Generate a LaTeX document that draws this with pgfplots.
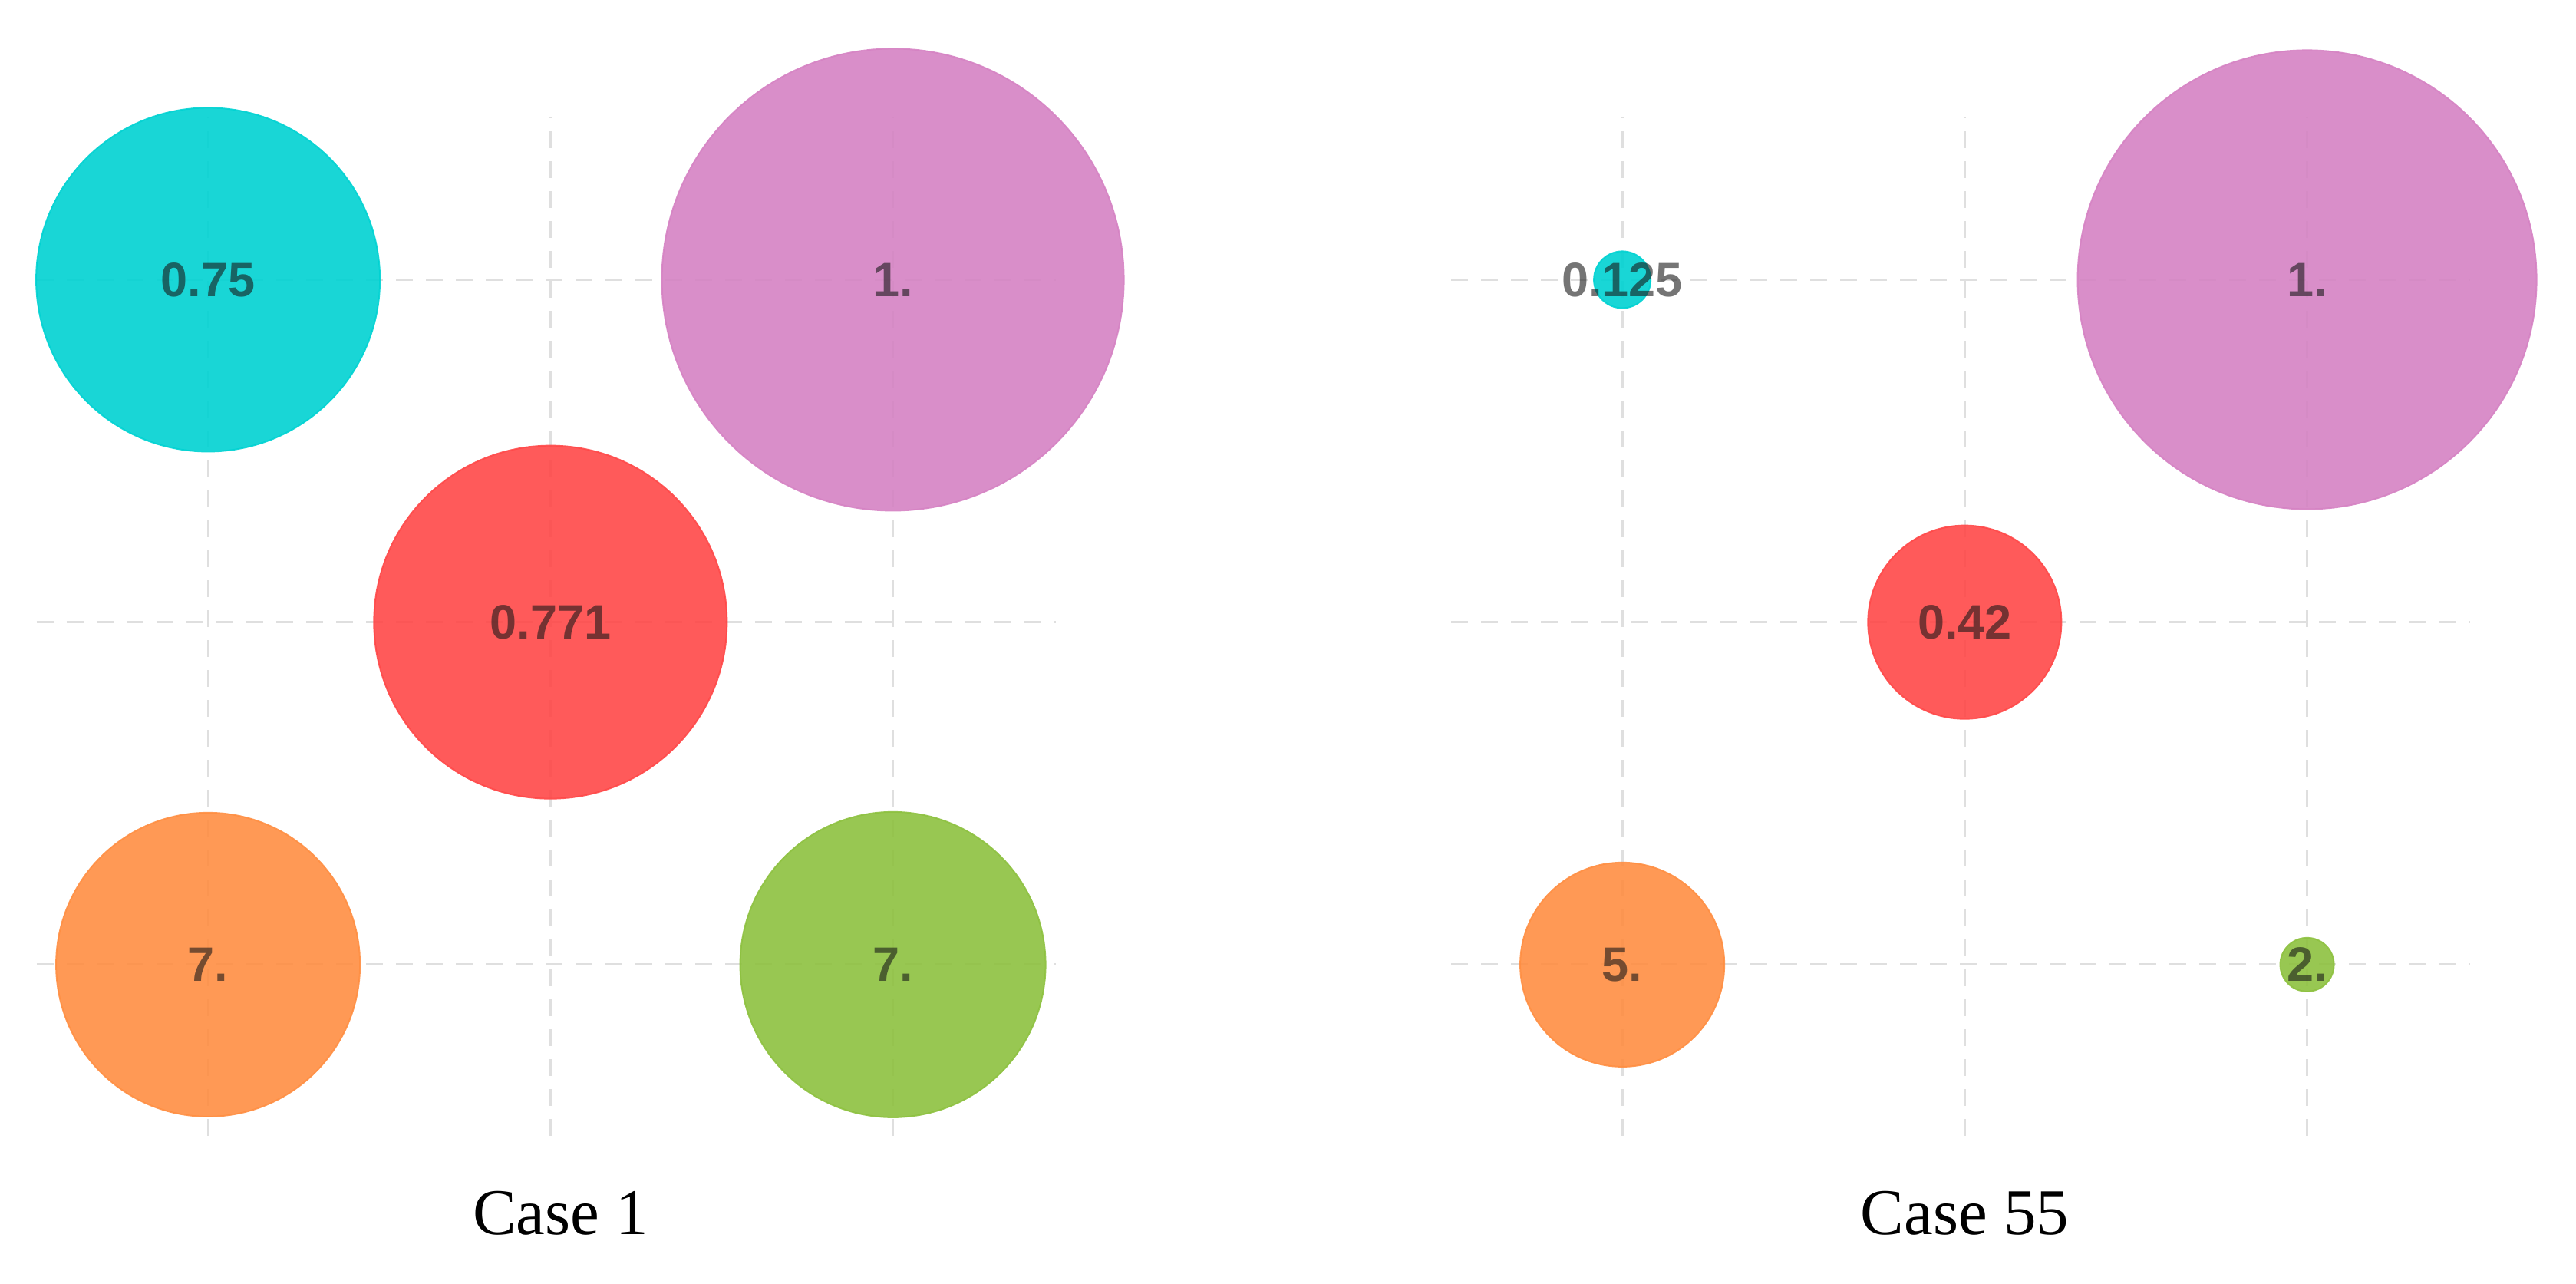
\documentclass[border=0pt]{standalone}
\usepackage{fontspec}
\setmainfont{Liberation Serif}
\newfontfamily\labfont{Liberation Sans}
\usepackage{pgfplots}
\pgfplotsset{compat=1.18}
\usepackage{pgfplotstable}

\definecolor{bc1}{RGB}{0,210,210}
\definecolor{bc2}{RGB}{213,130,195}
\definecolor{bc3}{RGB}{255,72,72}
\definecolor{bc4}{RGB}{255,142,66}
\definecolor{bc5}{RGB}{141,193,63}

% x y radius(pt) label colour-index
\pgfplotstableread{
x y r lab ci
1 3 44.8 0.75 1
3 3 60.2 1. 2
2 2 46.0 0.771 3
1 1 39.6 7. 4
3 1 39.8 7. 5
}\caseone

\pgfplotstableread{
x y r lab ci
1 3 7.4 0.125 1
3 3 59.8 1. 2
2 2 25.2 0.42 3
1 1 26.6 5. 4
3 1 7.0 2. 5
}\casefiftyfive

\pgfplotsset{
  bubblepanel/.style={
    scale only axis, width=265.5pt, height=265.5pt,
    xmin=0.5, xmax=3.475, ymin=0.5, ymax=3.475,
    xtick={1,2,3}, ytick={1,2,3},
    xticklabels={}, yticklabels={},
    grid=major,
    grid style={gray!25, line width=0.6pt, dash pattern=on 4.4pt off 3.4pt},
    axis line style={draw=none}, tick style={draw=none},
    clip=false, anchor=south west,
  },
  bubbles/.style={
    scatter, only marks, mark=*,
    point meta=\thisrow{ci},
    visualization depends on={\thisrow{r}\as\rad},
    visualization depends on={\thisrow{ci}\as\ci},
    scatter/@pre marker code/.code={%
      \pgfmathtruncatemacro\cidx{\ci}%
      \scope[mark size=\rad pt, color=bc\cidx, opacity=0.9, line width=0.4pt]},
    scatter/@post marker code/.code={\endscope},
  },
  bubblelabels/.style={
    only marks, mark=none,
    point meta=explicit symbolic,
    nodes near coords,
    nodes near coords style={anchor=center, text=black!90, text opacity=0.6,
      font=\labfont\bfseries\fontsize{12.6}{14}\selectfont},
  },
}

\begin{document}
\begin{tikzpicture}
\path[use as bounding box] (0,0) rectangle (671.4pt,334.4pt);

\begin{axis}[bubblepanel, at={(9.6pt,38.4pt)}]
\addplot[bubbles] table[x=x, y=y] {\caseone};
\addplot[bubblelabels] table[x=x, y=y, meta=lab] {\caseone};
\node[anchor=base, font=\fontsize{17}{20}\selectfont] at (axis cs:2.03,0.211) {Case 1};
\end{axis}

\begin{axis}[bubblepanel, at={(378.2pt,38.4pt)}]
\addplot[bubbles] table[x=x, y=y] {\casefiftyfive};
\addplot[bubblelabels] table[x=x, y=y, meta=lab] {\casefiftyfive};
\node[anchor=base, font=\fontsize{17}{20}\selectfont] at (axis cs:2.0,0.211) {Case 55};
\end{axis}
\end{tikzpicture}
\end{document}
